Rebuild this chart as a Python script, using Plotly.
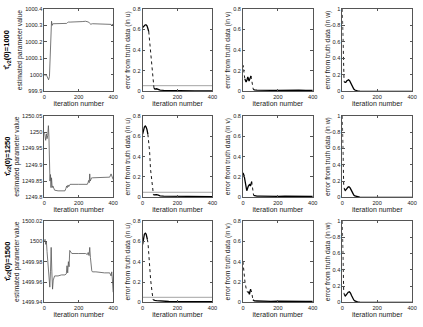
import plotly.graph_objects as go

# ---------------- data ----------------
iter_range = [0, 400]
x_ticks = [0, 200, 400]
x_ticklabels = ["0", "200", "400"]

row_labels = ["1000", "1250", "1500"]

# column 1 : estimated parameter value
tau1000_x = [0, 5, 10, 15, 20, 25, 30, 34, 38, 42, 46, 50, 55, 60, 80, 100, 120, 130, 136, 140,
             150, 180, 200, 220, 240, 250, 258, 264, 270, 280, 300, 330, 360, 380, 388, 392, 396, 400]
tau1000_y = [1000.0, 999.995, 1000.005, 999.99, 999.975, 999.97, 999.99, 1000.1, 1000.25, 1000.325,
             1000.3, 1000.31, 1000.31, 1000.31, 1000.31, 1000.31, 1000.31, 1000.312, 1000.318, 1000.32,
             1000.32, 1000.32, 1000.321, 1000.323, 1000.325, 1000.324, 1000.32, 1000.312, 1000.307, 1000.31,
             1000.31, 1000.31, 1000.31, 1000.31, 1000.306, 1000.3, 1000.31, 1000.31]
tau1000_ticks = [999.9, 1000.0, 1000.1, 1000.2, 1000.3, 1000.4]
tau1000_ticklabels = ["999.9", "1000", "1000.1", "1000.2", "1000.3", "1000.4"]

tau1250_x = [0, 4, 8, 12, 16, 20, 24, 27, 30, 33, 36, 39, 42, 46, 50, 55, 60, 80, 100, 120,
             126, 130, 134, 138, 142, 146, 150, 200, 250, 254, 258, 261, 264, 267, 270, 275, 280, 300,
             350, 380, 388, 394, 400]
tau1250_y = [1250.0, 1249.99, 1249.975, 1249.995, 1249.98, 1249.99, 1250.02, 1249.985, 1249.9, 1249.85,
             1249.87, 1249.83, 1249.86, 1249.83, 1249.835, 1249.825, 1249.822, 1249.82, 1249.82, 1249.82,
             1249.828, 1249.835, 1249.83, 1249.838, 1249.833, 1249.84, 1249.84, 1249.84, 1249.84, 1249.845,
             1249.852, 1249.845, 1249.872, 1249.85, 1249.858, 1249.86, 1249.86, 1249.86, 1249.86, 1249.862,
             1249.872, 1249.862, 1249.855]
tau1250_ticks = [1249.8, 1249.85, 1249.9, 1249.95, 1250.0, 1250.05]
tau1250_ticklabels = ["1249.8", "1249.85", "1249.9", "1249.95", "1250", "1250.05"]

tau1500_x = [0, 4, 8, 12, 16, 20, 24, 28, 32, 36, 40, 44, 48, 52, 56, 60, 80, 100, 120, 128,
             132, 136, 140, 144, 148, 160, 200, 240, 250, 255, 260, 264, 268, 272, 276, 280, 300, 350,
             380, 388, 392, 396, 400]
tau1500_y = [1500.0, 1500.002, 1499.997, 1500.0, 1499.99, 1499.98, 1499.972, 1499.968, 1499.955, 1499.97,
             1499.994, 1499.97, 1499.953, 1499.962, 1499.966, 1499.966, 1499.966, 1499.967, 1499.967, 1499.968,
             1499.976, 1499.969, 1499.98, 1499.975, 1499.991, 1499.988, 1499.988, 1499.988, 1499.987, 1499.989,
             1499.986, 1499.994, 1499.984, 1499.974, 1499.971, 1499.97, 1499.97, 1499.969, 1499.969, 1499.966,
             1499.97, 1499.962, 1499.95]
tau1500_ticks = [1499.94, 1499.96, 1499.98, 1500.0, 1500.02]
tau1500_ticklabels = ["1499.94", "1499.96", "1499.98", "1500", "1500.02"]

# column 2 : error in u
u1000_x = [0, 5, 10, 15, 20, 25, 30, 35, 39, 45, 53, 59, 65, 70, 80, 90, 100, 120, 150, 200, 250, 300, 350, 400]
u1000_y = [0.62, 0.63, 0.64, 0.645, 0.645, 0.635, 0.61, 0.58, 0.51, 0.38, 0.22, 0.095, 0.03, 0.022,
           0.025, 0.018, 0.012, 0.01, 0.008, 0.006, 0.005, 0.005, 0.005, 0.005]
u1000_fast = [(33, 65)]
u1250_x = [0, 5, 10, 15, 20, 25, 30, 34, 40, 45, 53, 58, 62, 70, 80, 90, 100, 120, 150, 200, 250, 300, 350, 400]
u1250_y = [0.62, 0.66, 0.69, 0.70, 0.69, 0.665, 0.62, 0.57, 0.45, 0.28, 0.12, 0.04, 0.025, 0.028,
           0.026, 0.022, 0.015, 0.013, 0.012, 0.01, 0.01, 0.009, 0.009, 0.008]
u1250_fast = [(28, 62)]
u1500_x = [0, 5, 10, 15, 20, 27, 31, 35, 40, 46, 54, 60, 65, 70, 80, 90, 100, 120, 150, 200, 250, 300, 350, 400]
u1500_y = [0.57, 0.63, 0.67, 0.68, 0.67, 0.62, 0.58, 0.48, 0.35, 0.22, 0.1, 0.026, 0.02, 0.02,
           0.018, 0.016, 0.012, 0.01, 0.009, 0.008, 0.008, 0.007, 0.007, 0.007]
u1500_fast = [(27, 60)]
u_threshold = [0.055, 0.05, 0.05]

# column 3 : error in v
v1000_x = [0, 2, 6, 11, 18, 23, 28, 35, 40, 46, 52, 56, 59, 65, 80, 100, 130, 160, 200, 240, 280, 320, 360, 400]
v1000_y = [0.23, 0.25, 0.18, 0.12, 0.09, 0.11, 0.14, 0.1, 0.12, 0.15, 0.1, 0.05, 0.02, 0.015,
           0.012, 0.01, 0.012, 0.01, 0.009, 0.011, 0.01, 0.012, 0.009, 0.01]
v1000_fast = [(0, 11), (46, 59)]
v1250_x = [0, 1, 7, 13, 22, 31, 39, 43, 50, 56, 61, 70, 80, 100, 130, 160, 200, 240, 280, 320, 360, 400]
v1250_y = [0.22, 0.24, 0.21, 0.13, 0.065, 0.11, 0.13, 0.11, 0.155, 0.1, 0.02, 0.015, 0.012, 0.012,
           0.01, 0.012, 0.01, 0.011, 0.012, 0.01, 0.011, 0.01]
v1250_fast = [(50, 61)]
v1500_x = [0, 5, 11, 18, 26, 33, 37, 41, 44, 50, 57, 65, 80, 100, 130, 160, 200, 240, 280, 320, 360, 400]
v1500_y = [0.4, 0.29, 0.21, 0.14, 0.1, 0.1, 0.08, 0.11, 0.13, 0.1, 0.026, 0.015, 0.014, 0.012,
           0.013, 0.011, 0.012, 0.01, 0.012, 0.011, 0.01, 0.01]
v1500_fast = [(0, 26), (44, 57)]

# column 4 : error in w
w1000_x = [0, 2, 4, 6, 8, 10, 12, 15, 20, 25, 30, 36, 42, 48, 54, 60, 66, 72, 79, 90, 100, 120, 150, 200, 300, 400]
w1000_y = [1.0, 0.7, 0.45, 0.3, 0.2, 0.14, 0.11, 0.107, 0.11, 0.125, 0.135, 0.14, 0.13, 0.105, 0.075,
           0.045, 0.028, 0.016, 0.008, 0.003, 0.001, 0.0, 0.0, 0.0, 0.0, 0.0]
w1000_fast = [(0, 12)]
w1250_x = [0, 2, 4, 6, 8, 11, 14, 17, 22, 28, 33, 38, 44, 50, 55, 60, 66, 72, 79, 90, 100, 120, 150, 200, 300, 400]
w1250_y = [1.0, 0.6, 0.38, 0.24, 0.16, 0.11, 0.09, 0.085, 0.095, 0.115, 0.127, 0.13, 0.12, 0.095, 0.07,
           0.045, 0.028, 0.018, 0.012, 0.005, 0.002, 0.0, 0.0, 0.0, 0.0, 0.0]
w1250_fast = [(0, 11)]
w1500_x = [0, 2, 4, 6, 8, 11, 14, 17, 22, 28, 34, 41, 47, 53, 57, 60, 66, 72, 79, 90, 100, 120, 150, 200, 300, 400]
w1500_y = [1.0, 0.6, 0.36, 0.22, 0.15, 0.1, 0.085, 0.08, 0.09, 0.11, 0.125, 0.13, 0.115, 0.085, 0.065,
           0.05, 0.03, 0.018, 0.01, 0.004, 0.002, 0.0, 0.0, 0.0, 0.0, 0.0]
w1500_fast = [(0, 11)]

err_uv_ticks = [0, 0.2, 0.4, 0.6, 0.8]
err_uv_ticklabels = ["0", "0.2", "0.4", "0.6", "0.8"]
err_w_ticks = [0, 0.2, 0.4, 0.6, 0.8, 1.0]
err_w_ticklabels = ["0", "0.2", "0.4", "0.6", "0.8", "1"]

col_titles = ["estimated parameter value", "error from truth data (in u)",
              "error from truth data (in v)", "error from truth data (in w)"]

# ---------------- layout geometry ----------------
W, H = 423, 327
col_px = [(43, 113), (143, 214), (245, 316), (346, 417)]
row_px = [(6, 90), (115, 198), (222, 305)]
FONT = "Liberation Sans, Arial, sans-serif"


def split(xs, ys, intervals):
    def fast(a, b):
        return any(lo <= a and b <= hi for lo, hi in intervals)
    out = {True: ([], []), False: ([], [])}
    for i in range(len(xs) - 1):
        k = fast(xs[i], xs[i + 1])
        sx, sy = out[k]
        if sx and sx[-1] == xs[i] and sy[-1] == ys[i]:
            sx.append(xs[i + 1]); sy.append(ys[i + 1])
        else:
            if sx:
                sx.append(None); sy.append(None)
            sx += [xs[i], xs[i + 1]]; sy += [ys[i], ys[i + 1]]
    return out[False], out[True]


fig = go.Figure()

panels = [
    [(tau1000_x, tau1000_y, None, tau1000_ticks, tau1000_ticklabels),
     (u1000_x, u1000_y, u1000_fast, err_uv_ticks, err_uv_ticklabels),
     (v1000_x, v1000_y, v1000_fast, err_uv_ticks, err_uv_ticklabels),
     (w1000_x, w1000_y, w1000_fast, err_w_ticks, err_w_ticklabels)],
    [(tau1250_x, tau1250_y, None, tau1250_ticks, tau1250_ticklabels),
     (u1250_x, u1250_y, u1250_fast, err_uv_ticks, err_uv_ticklabels),
     (v1250_x, v1250_y, v1250_fast, err_uv_ticks, err_uv_ticklabels),
     (w1250_x, w1250_y, w1250_fast, err_w_ticks, err_w_ticklabels)],
    [(tau1500_x, tau1500_y, None, tau1500_ticks, tau1500_ticklabels),
     (u1500_x, u1500_y, u1500_fast, err_uv_ticks, err_uv_ticklabels),
     (v1500_x, v1500_y, v1500_fast, err_uv_ticks, err_uv_ticklabels),
     (w1500_x, w1500_y, w1500_fast, err_w_ticks, err_w_ticklabels)],
]

layout = {}
axis_common = dict(showline=True, mirror="ticks", linecolor="#555", linewidth=0.8,
                   ticks="inside", ticklen=2.5, tickcolor="#555", tickwidth=0.8,
                   showgrid=False, zeroline=False,
                   tickfont=dict(family=FONT, size=5.6, color="#222"))

n = 0
for r in range(3):
    for c in range(4):
        n += 1
        xs, ys, fastint, yt, ytl = panels[r][c]
        xa = "x" if n == 1 else f"x{n}"
        ya = "y" if n == 1 else f"y{n}"
        if c == 0:
            fig.add_trace(go.Scatter(x=xs, y=ys, mode="lines", xaxis=xa, yaxis=ya,
                                     line=dict(color="#555", width=0.8), showlegend=False))
        else:
            if c == 1:
                fig.add_trace(go.Scatter(x=iter_range, y=[u_threshold[r]] * 2, mode="lines",
                                         xaxis=xa, yaxis=ya,
                                         line=dict(color="#9a9a9a", width=0.9), showlegend=False))
            (sx, sy), (dx, dy) = split(xs, ys, fastint)
            fig.add_trace(go.Scatter(x=sx, y=sy, mode="lines", xaxis=xa, yaxis=ya,
                                     line=dict(color="black", width=1.3), showlegend=False))
            fig.add_trace(go.Scatter(x=dx, y=dy, mode="lines", xaxis=xa, yaxis=ya,
                                     line=dict(color="black", width=0.9, dash="dot"),
                                     showlegend=False))
        x0, x1 = col_px[c]
        y0, y1 = row_px[r]
        xkey = "xaxis" if n == 1 else f"xaxis{n}"
        ykey = "yaxis" if n == 1 else f"yaxis{n}"
        layout[xkey] = dict(axis_common, domain=[x0 / W, x1 / W], anchor=ya,
                            range=iter_range, tickvals=x_ticks, ticktext=x_ticklabels,
                            title=dict(text="iteration number", standoff=2,
                                       font=dict(family=FONT, size=7, color="#222")))
        layout[ykey] = dict(axis_common, domain=[1 - y1 / H, 1 - y0 / H], anchor=xa,
                            range=[yt[0], yt[-1]], tickvals=yt, ticktext=ytl,
                            title=dict(text=col_titles[c], standoff=1,
                                       font=dict(family=FONT, size=6.8, color="#222")))

annotations = []
for r in range(3):
    y0, y1 = row_px[r]
    annotations.append(dict(
        text=f"<b>τ̂<sub>v2</sub>(0)={row_labels[r]}</b>",
        xref="paper", yref="paper", x=5.5 / W, y=1 - (y0 + y1) / 2 / H,
        textangle=-90, showarrow=False, xanchor="center", yanchor="middle",
        font=dict(family=FONT, size=7.5, color="black")))

fig.update_layout(width=W, height=H, margin=dict(l=0, r=0, t=0, b=0),
                  paper_bgcolor="white", plot_bgcolor="white",
                  annotations=annotations, **layout)

fig.write_html("out.html")
